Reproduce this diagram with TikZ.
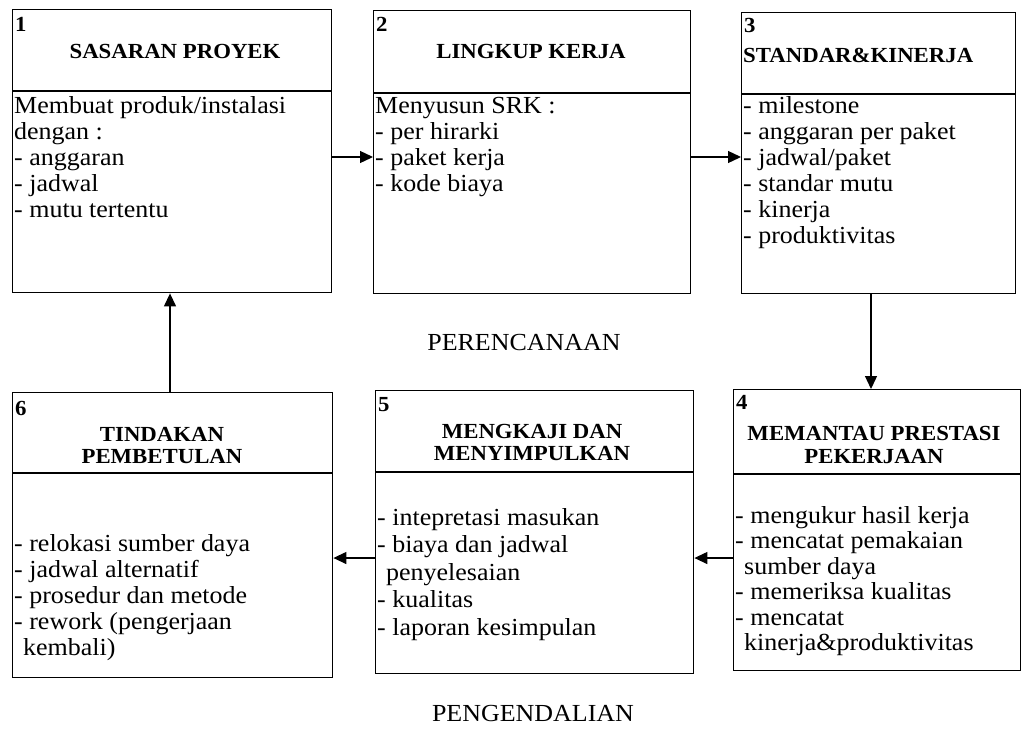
\documentclass[tikz,border=0pt]{standalone}
\usepackage{fontspec}
\setmainfont{Liberation Serif}[FakeStretch=1.06]
\usetikzlibrary{arrows.meta}

\newcommand\bodyfont{\fontsize{24.5}{26}\selectfont}
\newcommand\headfont{\fontsize{21.5}{23}\selectfont\bfseries}

\begin{document}
\begin{tikzpicture}[x=1pt,y=-1pt,
  frame/.style={draw, line width=1.4pt, inner sep=0pt, anchor=north west},
  rule/.style={line width=1.3pt},
  txt/.style={font=\bodyfont, inner sep=0pt, anchor=base west},
  head/.style={font=\headfont, inner sep=0pt, anchor=base},
  num/.style={font=\headfont, inner sep=0pt, anchor=base west},
  phase/.style={font=\bodyfont, inner sep=0pt, anchor=base},
  flow/.style={line width=1.3pt, -{Triangle[length=13pt,width=12pt]}}]

\useasboundingbox (0,0) rectangle (1024,748);

% ---------- planning row ----------
\node[frame, minimum width=319pt, minimum height=283pt] (b1) at (12,9) {};
\node[frame, minimum width=317pt, minimum height=283pt] (b2) at (373,10) {};
\node[frame, minimum width=274pt, minimum height=281pt] (b3) at (741,12) {};

% ---------- control row ----------
\node[frame, minimum width=287pt, minimum height=281pt] (b4) at (733,389) {};
\node[frame, minimum width=318pt, minimum height=283pt] (b5) at (375,390) {};
\node[frame, minimum width=320pt, minimum height=285pt] (b6) at (12,392) {};

% header / body separators
\coordinate (d1) at (0,91);
\coordinate (d2) at (0,93);
\coordinate (d3) at (0,94);
\coordinate (d4) at (0,474);
\coordinate (d5) at (0,472);
\coordinate (d6) at (0,473);
\foreach \k in {1,...,6}
  \draw[rule] (b\k.west |- d\k) -- (b\k.east |- d\k);

% step numbers
\node[num] (n1) at (15,31) {1};
\node[num] (n2) at (376,31) {2};
\node[num] (n3) at (744,32) {3};
\node[num] (n4) at (736,409) {4};
\node[num] (n5) at (378,411) {5};
\node[num] (n6) at (15,415) {6};

% headings
\node[head] (h1) at (175,58) {SASARAN PROYEK};
\node[head] (h2) at (531,58) {LINGKUP KERJA};
\node[num]  (h3) at (743,62) {STANDAR\&KINERJA};
\node[head] (h4a) at (874,440) {MEMANTAU PRESTASI};
\node[head] (h4b) at (874,463) {PEKERJAAN};
\node[head] (h5a) at (532,438) {MENGKAJI DAN};
\node[head] (h5b) at (532,460) {MENYIMPULKAN};
\node[head] (h6a) at (162,441) {TINDAKAN};
\node[head] (h6b) at (162,463) {PEMBETULAN};

% body texts
\foreach [count=\i] \t in {Membuat produk/instalasi, dengan :, - anggaran, - jadwal, - mutu tertentu}
  \node[txt] (t1-\i) at (14,113+26*\i-26) {\t};
\foreach [count=\i] \t in {Menyusun SRK :, - per hirarki, - paket kerja, - kode biaya}
  \node[txt] (t2-\i) at (375,113+26*\i-26) {\t};
\foreach [count=\i] \t in {- milestone, - anggaran per paket, - jadwal/paket, - standar mutu, - kinerja, - produktivitas}
  \node[txt] (t3-\i) at (743,113+26*\i-26) {\t};
\foreach [count=\i] \t in {- mengukur hasil kerja, - mencatat pemakaian, {\hspace*{9pt}sumber daya}, - memeriksa kualitas, - mencatat, {\hspace*{9pt}kinerja\&produktivitas}}
  \node[txt] (t4-\i) at (735,523+25.5*\i-25.5) {\t};
\foreach [count=\i] \t in {- intepretasi masukan, - biaya dan jadwal, {\hspace*{9pt}penyelesaian}, - kualitas, - laporan kesimpulan}
  \node[txt] (t5-\i) at (377,525+27.5*\i-27.5) {\t};
\foreach [count=\i] \t in {- relokasi sumber daya, - jadwal alternatif, - prosedur dan metode, - rework (pengerjaan, {\hspace*{9pt}kembali)}}
  \node[txt] (t6-\i) at (14,551+26*\i-26) {\t};

% phase captions
\node[phase] (plan) at (524,350) {PERENCANAAN};
\node[phase] (ctrl) at (533,721) {PENGENDALIAN};

% flow of the cycle
\coordinate (rowA) at (0,157);
\coordinate (rowB) at (0,558);
\coordinate (colR) at (871,0);
\coordinate (colL) at (170,0);
\draw[flow] (b1.east |- rowA) -- (b2.west |- rowA);
\draw[flow] (b2.east |- rowA) -- (b3.west |- rowA);
\draw[flow] (colR |- b3.south) -- (colR |- b4.north);
\draw[flow] (b4.west |- rowB) -- (b5.east |- rowB);
\draw[flow] (b5.west |- rowB) -- (b6.east |- rowB);
\draw[flow] (colL |- b6.north) -- (colL |- b1.south);
\end{tikzpicture}
\end{document}
